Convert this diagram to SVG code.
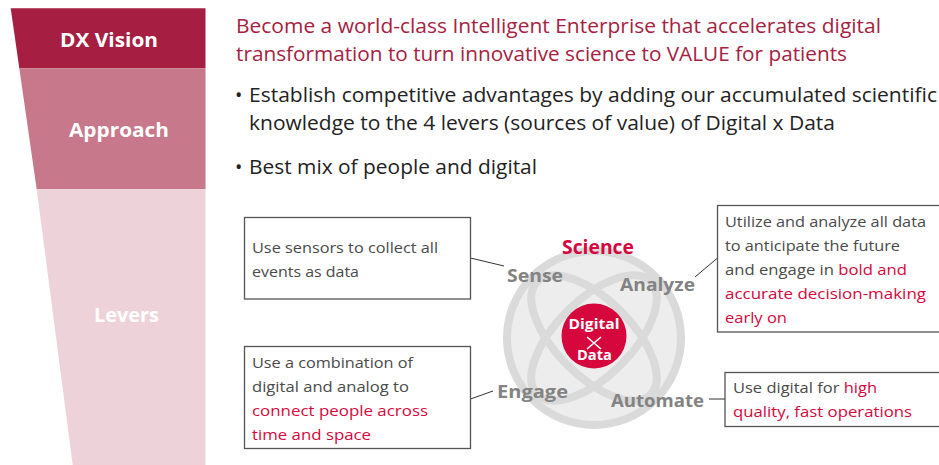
<svg xmlns="http://www.w3.org/2000/svg" width="939" height="465" viewBox="0 0 939 465">
<style>
text{font-family:"Open Sans","Noto Sans","DejaVu Sans",sans-serif}
.tier{font-weight:bold;font-size:20px;fill:#fff;text-anchor:middle}
.head{font-size:19.5px;fill:#A6213F}
.bul{font-size:19.5px;fill:#222}
.box{fill:#fff;stroke:#555;stroke-width:1.3}
.bt{font-size:15px;fill:#4a4a4a}
.em{fill:#D5073D}
.lev{font-weight:bold;font-size:18px;fill:#838383}
.conn{stroke:#333;stroke-width:1;fill:none}
.orb{fill:none;stroke:#DADADA;stroke-width:8}
</style>
<rect width="939" height="465" fill="#fff"/>
<g id="funnel">
<polygon points="10.7,8.3 205.5,8.3 205.5,68.3 19.3,68.3" fill="#A61E41"/>
<polygon points="19.3,68.3 205.5,68.3 205.5,189.3 36.7,189.3" fill="#C8788B"/>
<polygon points="36.7,189.3 205.5,189.3 205.5,465 72.7,465" fill="#EED2DA"/>
<text class="tier" x="109" y="46.5" textLength="98" lengthAdjust="spacingAndGlyphs">DX Vision</text>
<text class="tier" x="119" y="137" textLength="100" lengthAdjust="spacingAndGlyphs">Approach</text>
<text class="tier" x="126.5" y="321.5" textLength="65" lengthAdjust="spacingAndGlyphs">Levers</text>
</g>
<g id="vision">
<text class="head" x="236" y="33" textLength="645" lengthAdjust="spacingAndGlyphs">Become a world-class Intelligent Enterprise that accelerates digital</text>
<text class="head" x="236" y="61" textLength="611" lengthAdjust="spacingAndGlyphs">transformation to turn innovative science to VALUE for patients</text>
</g>
<g id="approach">
<text class="bul" x="235" y="102">•</text>
<text class="bul" x="249" y="102" textLength="688" lengthAdjust="spacingAndGlyphs">Establish competitive advantages by adding our accumulated scientific</text>
<text class="bul" x="249" y="130" textLength="586" lengthAdjust="spacingAndGlyphs">knowledge to the 4 levers (sources of value) of Digital x Data</text>
<text class="bul" x="235" y="174">•</text>
<text class="bul" x="249" y="174" textLength="288" lengthAdjust="spacingAndGlyphs">Best mix of people and digital</text>
</g>
<g id="connectors">
<line class="conn" x1="470.5" y1="258" x2="504" y2="266"/>
<line class="conn" x1="470.5" y1="399" x2="493" y2="391"/>
<line class="conn" x1="695" y1="277" x2="717.5" y2="258"/>
<line class="conn" x1="709" y1="399" x2="725" y2="399"/>
</g>
<g id="science">
<circle cx="594" cy="338" r="87" fill="#EDEDED" stroke="#DADADA" stroke-width="8"/>
<ellipse class="orb" cx="594" cy="338" rx="80" ry="38" transform="rotate(45 594 338)"/>
<ellipse class="orb" cx="594" cy="338" rx="80" ry="38" transform="rotate(-45 594 338)"/>
<text x="598" y="254" text-anchor="middle" font-weight="bold" font-size="19px" fill="#D5073D" textLength="72" lengthAdjust="spacingAndGlyphs">Science</text>
</g>
<g id="core">
<circle cx="594" cy="336" r="32.5" fill="#D5073D"/>
<text x="594" y="328.5" text-anchor="middle" font-weight="bold" font-size="14.5px" fill="#fff" textLength="51" lengthAdjust="spacingAndGlyphs">Digital</text>
<path d="M587 337 L601 349 M601 337 L587 349" stroke="#fff" stroke-width="1.6"/>
<text x="594.5" y="360" text-anchor="middle" font-weight="bold" font-size="14.5px" fill="#fff" textLength="35" lengthAdjust="spacingAndGlyphs">Data</text>
</g>
<g id="sense">
<text class="lev" x="507" y="282" textLength="56" lengthAdjust="spacingAndGlyphs">Sense</text>
<rect class="box" x="244.5" y="217.5" width="226" height="81.5"/>
<text class="bt" x="252" y="253" textLength="186" lengthAdjust="spacingAndGlyphs">Use sensors to collect all</text>
<text class="bt" x="252" y="277" textLength="107" lengthAdjust="spacingAndGlyphs">events as data</text>
</g>
<g id="analyze">
<text class="lev" x="620" y="291" textLength="75" lengthAdjust="spacingAndGlyphs">Analyze</text>
<rect class="box" x="717.5" y="205.5" width="230" height="126.5"/>
<text class="bt" x="725" y="227" textLength="201" lengthAdjust="spacingAndGlyphs">Utilize and analyze all data</text>
<text class="bt" x="725" y="251" textLength="175" lengthAdjust="spacingAndGlyphs">to anticipate the future</text>
<text class="bt" x="725" y="275" textLength="182" lengthAdjust="spacingAndGlyphs">and engage in <tspan class="em">bold and</tspan></text>
<text class="bt em" x="725" y="299" textLength="201" lengthAdjust="spacingAndGlyphs">accurate decision-making</text>
<text class="bt em" x="725" y="323" textLength="62" lengthAdjust="spacingAndGlyphs">early on</text>
</g>
<g id="engage">
<text class="lev" x="497" y="398" textLength="71" lengthAdjust="spacingAndGlyphs">Engage</text>
<rect class="box" x="244.5" y="346.5" width="226" height="102"/>
<text class="bt" x="252" y="368" textLength="161" lengthAdjust="spacingAndGlyphs">Use a combination of</text>
<text class="bt" x="252" y="392" textLength="157" lengthAdjust="spacingAndGlyphs">digital and analog to</text>
<text class="bt em" x="252" y="416" textLength="176" lengthAdjust="spacingAndGlyphs">connect people across</text>
<text class="bt em" x="252" y="440" textLength="119" lengthAdjust="spacingAndGlyphs">time and space</text>
</g>
<g id="automate">
<text class="lev" x="611" y="407" textLength="93" lengthAdjust="spacingAndGlyphs">Automate</text>
<rect class="box" x="725" y="372.5" width="225" height="54"/>
<text class="bt" x="733" y="393" textLength="144" lengthAdjust="spacingAndGlyphs">Use digital for <tspan class="em">high</tspan></text>
<text class="bt em" x="733" y="417" textLength="179" lengthAdjust="spacingAndGlyphs">quality, fast operations</text>
</g>
</svg>
